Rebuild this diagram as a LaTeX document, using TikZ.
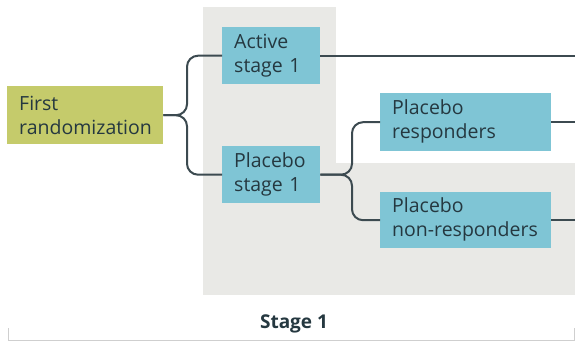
\documentclass[tikz,border=0pt]{standalone}
\usepackage{fontspec}
\setmainfont{Open Sans}
\definecolor{bgray}{HTML}{E9E9E6}
\definecolor{lime}{HTML}{C5CB6B}
\definecolor{sky}{HTML}{7FC5D5}
\definecolor{lin}{HTML}{3C4A50}
\definecolor{txt}{HTML}{253840}
\definecolor{axis}{HTML}{CFCFCF}
\tikzset{
  box/.style={rectangle, anchor=north west, inner xsep=12pt, inner ysep=0pt, align=left,
    font=\fontsize{19.5}{24}\selectfont, text=txt},
  conn/.style={draw=lin, line width=2pt, rounded corners=11pt},
}
\begin{document}
\begin{tikzpicture}[x=1pt,y=-1pt]
\useasboundingbox (0,0) rectangle (575,341);
% backgrounds
\fill[bgray] (203,7) rectangle (336,295);
\fill[bgray] (336,163) rectangle (575,295);
% nodes
\node[box, fill=lime, minimum width=156pt, minimum height=58pt, text width=132pt, inner xsep=11pt, text height=14pt] (fr) at (7,86) {First\\randomization};
\node[box, fill=sky, minimum width=98pt, minimum height=57pt, text width=74pt, text height=14pt] (act) at (222,27) {Active\\stage 1};
\node[box, fill=sky, minimum width=98pt, minimum height=57pt, text width=74pt, text height=14pt] (pl) at (222,146) {Placebo\\stage 1};
\node[box, fill=sky, minimum width=171pt, minimum height=58pt, text width=147pt, text height=14pt] (pr) at (380,93) {Placebo\\responders};
\node[box, fill=sky, minimum width=171pt, minimum height=56pt, text width=147pt, text height=14pt] (pn) at (380,192) {Placebo\\non-responders};
\coordinate (e1) at (575,0 |- act.east);
\coordinate (e2) at (575,0 |- pr.east);
\coordinate (e3) at (575,0 |- pn.east);
% connectors
\draw[conn] (fr.east) -- (187,0 |- fr.east) |- (act.west);
\draw[conn] (fr.east) -- (187,0 |- fr.east) |- (pl.west);
\draw[conn] (pl.east) -- (352,0 |- pl.east) |- (pr.west);
\draw[conn] (pl.east) -- (352,0 |- pl.east) |- (pn.west);
\draw[draw=lin, line width=2pt] (act.east) -- (e1);
\draw[draw=lin, line width=2pt] (pr.east) -- (e2);
\draw[draw=lin, line width=2pt] (pn.east) -- (e3);
% stage label
\node[font=\fontsize{19}{22}\selectfont\bfseries, text=txt] (st) at (294,324) {Stage 1};
\coordinate (b1) at (8,328);
\coordinate (b2) at (8,340);
\coordinate (b3) at (574,340);
\coordinate (b4) at (574,328);
\draw[axis, line width=1pt] (b1) -- (b2) -- (b3) -- (b4);
\end{tikzpicture}
\end{document}
